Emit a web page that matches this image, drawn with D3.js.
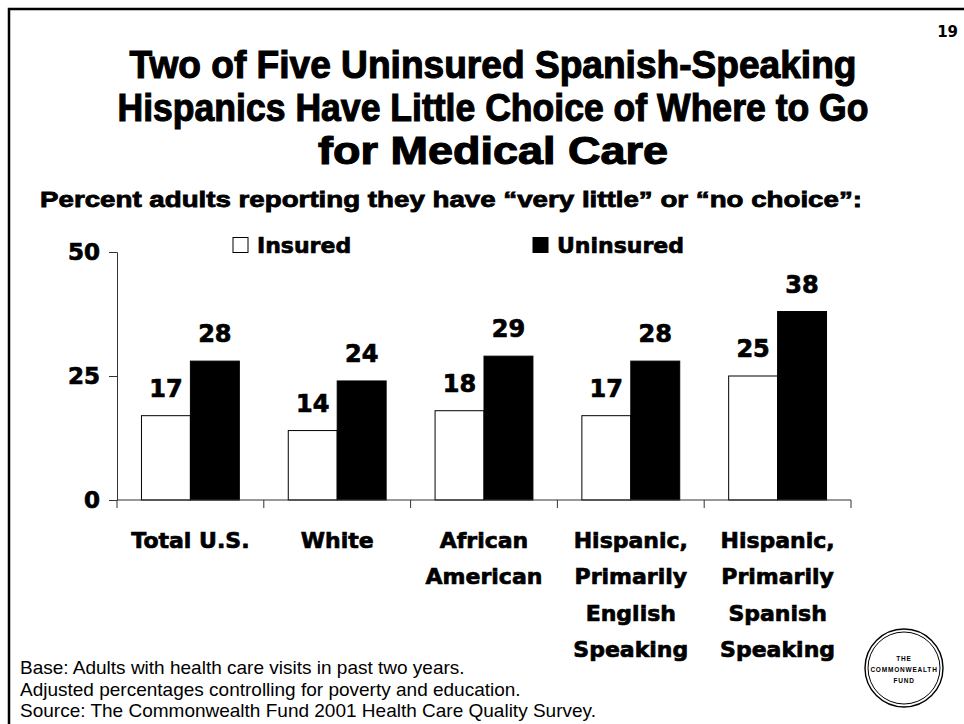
<!DOCTYPE html>
<html>
<head>
<meta charset="utf-8">
<script src="https://cdn.jsdelivr.net/npm/d3@7"></script>
<style>
  html, body { margin: 0; padding: 0; background: #fff; }
  svg { display: block; }
</style>
</head>
<body>
<script>
// Survey results: share of adults reporting "very little" or "no choice" of where to go for care
const categories = [
  ["Total U.S."],
  ["White"],
  ["African", "American"],
  ["Hispanic,", "Primarily", "English", "Speaking"],
  ["Hispanic,", "Primarily", "Spanish", "Speaking"]
];
const seriesNames = ["Insured", "Uninsured"];
const insured = [17, 14, 18, 17, 25];
const uninsured = [28, 24, 29, 28, 38];
const yTicks = [0, 25, 50];

const titleLines = [
  "Two of Five Uninsured Spanish-Speaking",
  "Hispanics Have Little Choice of Where to Go",
  "for Medical Care"
];
const subtitle = "Percent adults reporting they have \u201cvery little\u201d or \u201cno choice\u201d:";
const notes = [
  "Base: Adults with health care visits in past two years.",
  "Adjusted percentages controlling for poverty and education.",
  "Source: The Commonwealth Fund 2001 Health Care Quality Survey."
];
const pageNumber = "19";
const sealLines = ["THE", "COMMONWEALTH", "FUND"];

const W = 964, H = 724;
const heavy = "'DejaVu Sans', 'Liberation Sans', Arial, sans-serif";
const titleFont = "'Liberation Sans', Arial, sans-serif";

const svg = d3.select("body").append("svg")
  .attr("width", W).attr("height", H)
  .attr("viewBox", `0 0 ${W} ${H}`);

// slide frame: top and left edges
svg.append("path")
  .attr("d", `M9,${H} L9,9 L${W},9`)
  .attr("fill", "none").attr("stroke", "#000").attr("stroke-width", 2.5);

svg.append("text")
  .attr("x", 958).attr("y", 37)
  .attr("text-anchor", "end")
  .attr("font-family", heavy).attr("font-weight", 700).attr("font-size", 15)
  .text(pageNumber);

// title block
const titleBaselines = [78, 121, 164];
const titleWidths = [727, 751, 350];
svg.append("g").selectAll("text").data(titleLines).join("text")
  .attr("x", 493)
  .attr("y", (d, i) => titleBaselines[i])
  .attr("text-anchor", "middle")
  .attr("font-family", titleFont).attr("font-weight", 700).attr("font-size", 38)
  .attr("stroke", "#000").attr("stroke-width", 1.1)
  .attr("textLength", (d, i) => titleWidths[i])
  .attr("lengthAdjust", "spacingAndGlyphs")
  .text(d => d);

svg.append("text")
  .attr("x", 451).attr("y", 207)
  .attr("text-anchor", "middle")
  .attr("font-family", titleFont).attr("font-weight", 700).attr("font-size", 22)
  .attr("stroke", "#000").attr("stroke-width", 0.8)
  .attr("textLength", 822).attr("lengthAdjust", "spacingAndGlyphs")
  .text(subtitle);

// scales
const x0 = d3.scaleBand()
  .domain(d3.range(categories.length))
  .range([117, 851])
  .paddingInner(1 / 3)
  .paddingOuter(1 / 6);
const x1 = d3.scaleBand()
  .domain(seriesNames)
  .range([0, x0.bandwidth()]);
const y = d3.scaleLinear().domain([0, 50]).range([500, 252]);

const fills = { Insured: "#fff", Uninsured: "#000" };
const rows = categories.map((c, i) => ({ i, values: [insured[i], uninsured[i]] }));

// y axis
const yAxis = svg.append("g")
  .attr("transform", `translate(${x0.range()[0]},0)`)
  .call(d3.axisLeft(y).tickValues(yTicks).tickSize(8).tickPadding(9).tickFormat(d3.format("d")));
yAxis.select(".domain").attr("stroke", "#333");
yAxis.selectAll(".tick line").attr("stroke", "#333");
yAxis.selectAll(".tick text")
  .attr("font-family", heavy).attr("font-weight", 700).attr("font-size", 23)
  .attr("fill", "#000").attr("stroke", "#000").attr("stroke-width", 0.7);

// bars
const groups = svg.append("g").selectAll("g").data(rows).join("g")
  .attr("transform", d => `translate(${x0(d.i)},0)`);

groups.selectAll("rect").data(d => d.values.map((v, k) => ({ key: seriesNames[k], v })))
  .join("rect")
  .attr("x", d => x1(d.key))
  .attr("y", d => y(d.v))
  .attr("width", x1.bandwidth())
  .attr("height", d => y(0) - y(d.v))
  .attr("fill", d => fills[d.key])
  .attr("stroke", "#000").attr("stroke-width", 1);

groups.selectAll("text.val").data(d => d.values.map((v, k) => ({ key: seriesNames[k], v })))
  .join("text").attr("class", "val")
  .attr("x", d => x1(d.key) + x1.bandwidth() / 2)
  .attr("y", d => y(d.v) - 19)
  .attr("text-anchor", "middle")
  .attr("font-family", heavy).attr("font-weight", 700).attr("font-size", 24)
  .attr("stroke", "#000").attr("stroke-width", 0.7)
  .text(d => d.v);

// x axis with ticks at category boundaries
const bounds = d3.range(categories.length + 1).map(i => 117 + i * x0.step());
const xAxisG = svg.append("g");
xAxisG.append("line")
  .attr("x1", bounds[0]).attr("x2", bounds[bounds.length - 1])
  .attr("y1", y(0)).attr("y2", y(0))
  .attr("stroke", "#333");
xAxisG.selectAll("line.tk").data(bounds).join("line").attr("class", "tk")
  .attr("x1", d => d).attr("x2", d => d)
  .attr("y1", y(0)).attr("y2", y(0) + 8)
  .attr("stroke", "#333");

// category labels
svg.append("g").selectAll("text").data(rows).join("text")
  .attr("x", d => x0(d.i) + x0.bandwidth() / 2)
  .attr("y", 548)
  .attr("text-anchor", "middle")
  .attr("font-family", heavy).attr("font-weight", 700).attr("font-size", 22)
  .attr("stroke", "#000").attr("stroke-width", 0.7)
  .selectAll("tspan").data(d => categories[d.i]).join("tspan")
  .attr("x", function () { return this.parentNode.getAttribute("x"); })
  .attr("dy", (d, k) => k === 0 ? 0 : 36.3)
  .text(d => d);

// legend
const legend = svg.append("g");
const legendX = [233, 533];
seriesNames.forEach((name, k) => {
  legend.append("rect")
    .attr("x", legendX[k]).attr("y", 237.5)
    .attr("width", 15).attr("height", 15)
    .attr("fill", fills[name]).attr("stroke", "#000").attr("stroke-width", 1);
  legend.append("text")
    .attr("x", legendX[k] + 24).attr("y", 253)
    .attr("font-family", heavy).attr("font-weight", 700).attr("font-size", 22)
    .attr("stroke", "#000").attr("stroke-width", 0.7)
    .text(name);
});

// footnotes
svg.append("g").selectAll("text").data(notes).join("text")
  .attr("x", 20)
  .attr("y", (d, i) => 674 + i * 21.5)
  .attr("font-family", "'Liberation Sans', Arial, sans-serif").attr("font-size", 19)
  .text(d => d);

// Commonwealth Fund seal
const seal = svg.append("g").attr("transform", "translate(904,668)");
seal.append("circle").attr("r", 39).attr("fill", "#fff").attr("stroke", "#000").attr("stroke-width", 1.4);
seal.append("circle").attr("r", 36).attr("fill", "none").attr("stroke", "#000").attr("stroke-width", 1);
seal.selectAll("text").data(sealLines).join("text")
  .attr("y", (d, i) => -7 + i * 11)
  .attr("text-anchor", "middle")
  .attr("font-family", "'Liberation Sans', Arial, sans-serif")
  .attr("font-weight", 700)
  .attr("font-size", 6.5).attr("letter-spacing", 0.8)
  .text(d => d);
</script>
</body>
</html>
